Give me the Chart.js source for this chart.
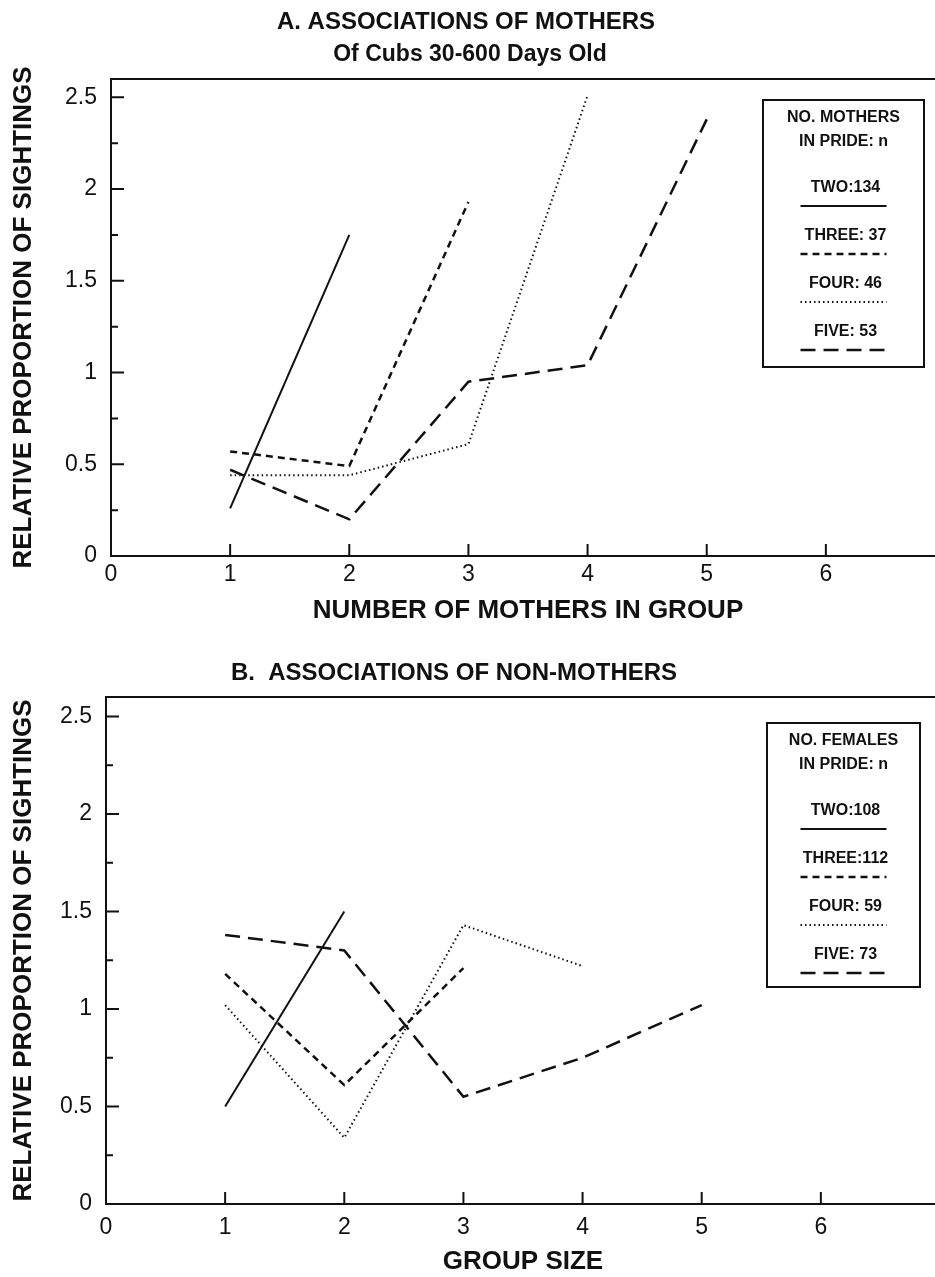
<!DOCTYPE html>
<html>
<head>
<meta charset="utf-8">
<title>Associations of mothers and non-mothers</title>
<script src="https://cdn.jsdelivr.net/npm/chart.js@4.4.1/dist/chart.umd.min.js"></script>
<style>
  html, body { margin: 0; padding: 0; background: #fff; overflow: hidden; }
  canvas { display: block; }
</style>
</head>
<body>
<canvas id="chartMothers" width="950" height="640"></canvas>
<canvas id="chartFemales" width="950" height="637"></canvas>
<script>
// group sizes on the x axis
const groupSizes = [1, 2, 3, 4, 5];
const xTickLabels = ['0', '1', '2', '3', '4', '5', '6'];
const yTickLabels = ['0', '0.5', '1', '1.5', '2', '2.5'];

// A. mothers of cubs 30-600 days old
const mothersLabels = ['TWO:134', 'THREE: 37', 'FOUR: 46', 'FIVE: 53'];
const mothersTwo = [0.26, 1.75];
const mothersThree = [0.57, 0.49, 1.93];
const mothersFour = [0.44, 0.44, 0.61, 2.51];
const mothersFive = [0.47, 0.20, 0.95, 1.04, 2.38];

// B. non-mothers
const femalesLabels = ['TWO:108', 'THREE:112', 'FOUR: 59', 'FIVE: 73'];
const femalesTwo = [0.50, 1.50];
const femalesThree = [1.18, 0.61, 1.21];
const femalesFour = [1.02, 0.34, 1.43, 1.22];
const femalesFive = [1.38, 1.30, 0.55, 0.75, 1.02];

const FONT = '"Liberation Sans", Arial, Helvetica, sans-serif';
const INK = '#111';

// line styles: solid, short dash, dotted, long dash
const lineStyles = [
    { borderWidth: 2, borderDash: [] },
    { borderWidth: 2.5, borderDash: [7, 5] },
    { borderWidth: 2, borderDash: [1.5, 3] },
    { borderWidth: 2.5, borderDash: [15, 8] }
];

function toPoints(values) {
    return values.map((v, i) => ({ x: groupSizes[i], y: v }));
}

function buildDatasets(labels, series) {
    return series.map((values, i) => ({
        label: labels[i],
        data: toPoints(values),
        borderColor: INK,
        borderWidth: lineStyles[i].borderWidth,
        borderDash: lineStyles[i].borderDash,
        pointRadius: 0,
        tension: 0,
        fill: false
    }));
}

// inward tick marks and the top edge of the frame
const frameTicks = {
    id: 'frameTicks',
    afterDraw(chart) {
        const ctx = chart.ctx;
        const area = chart.chartArea;
        const xs = chart.scales.x;
        const ys = chart.scales.y;
        ctx.save();
        ctx.strokeStyle = INK;
        ctx.lineWidth = 2;
        ctx.setLineDash([]);
        ctx.beginPath();
        ctx.moveTo(area.left - 1, area.top);
        ctx.lineTo(area.right, area.top);
        ys.ticks.forEach(t => {
            if (t.value <= 0) return;
            const py = ys.getPixelForValue(t.value);
            const major = Math.abs(t.value * 2 - Math.round(t.value * 2)) < 1e-6;
            ctx.moveTo(area.left, py);
            ctx.lineTo(area.left + (major ? 13 : 7), py);
        });
        xs.ticks.forEach(t => {
            if (t.value < 1) return;
            const px = xs.getPixelForValue(t.value);
            ctx.moveTo(px, area.bottom);
            ctx.lineTo(px, area.bottom - 12);
        });
        ctx.stroke();
        ctx.restore();
    }
};

// boxed legend with the header text above the samples
const prideLegend = {
    id: 'prideLegend',
    afterDraw(chart, args, opts) {
        const ctx = chart.ctx;
        const cx = opts.left + opts.width / 2;
        ctx.save();
        ctx.strokeStyle = INK;
        ctx.fillStyle = INK;
        ctx.lineWidth = 2;
        ctx.setLineDash([]);
        ctx.strokeRect(opts.left, opts.top, opts.width, opts.height);
        ctx.font = 'bold 16px ' + FONT;
        ctx.textAlign = 'center';
        ctx.textBaseline = 'middle';
        opts.header.forEach((t, i) => ctx.fillText(t, cx, opts.top + 18 + i * 24));
        chart.data.datasets.forEach((ds, i) => {
            const y = opts.top + 88 + i * 48;
            ctx.setLineDash([]);
            ctx.fillText(ds.label, cx + 2, y);
            ctx.beginPath();
            ctx.lineWidth = ds.borderWidth;
            ctx.setLineDash(ds.borderDash);
            ctx.moveTo(cx - 43, y + 18);
            ctx.lineTo(cx + 43, y + 18);
            ctx.stroke();
        });
        ctx.restore();
    }
};

// panel titles
const panelText = {
    id: 'panelText',
    afterDraw(chart, args, opts) {
        const ctx = chart.ctx;
        ctx.save();
        ctx.fillStyle = INK;
        ctx.textAlign = 'center';
        ctx.textBaseline = 'middle';
        opts.lines.forEach(l => {
            ctx.font = l.font;
            ctx.fillText(l.text, l.x, l.y);
        });
        ctx.restore();
    }
};

function makeChart(id, cfg) {
    return new Chart(document.getElementById(id), {
        type: 'line',
        data: { datasets: cfg.datasets },
        plugins: [frameTicks, prideLegend, panelText],
        options: {
            responsive: false,
            animation: false,
            devicePixelRatio: 1,
            layout: { padding: { top: cfg.padTop, right: cfg.padRight, left: 0, bottom: 0 } },
            plugins: {
                legend: { display: false },
                tooltip: { enabled: false },
                prideLegend: cfg.legend,
                panelText: { lines: cfg.titles }
            },
            scales: {
                x: {
                    type: 'linear',
                    min: 0,
                    max: 7,
                    afterFit: scale => { scale.height = cfg.xHeight; },
                    grid: { display: false, drawTicks: false },
                    border: { display: true, color: INK, width: 2 },
                    ticks: {
                        stepSize: 1,
                        padding: cfg.xPad,
                        color: INK,
                        font: { family: FONT, size: 23 },
                        maxRotation: 0,
                        autoSkip: false,
                        callback: v => xTickLabels[v] !== undefined ? xTickLabels[v] : ''
                    },
                    title: {
                        display: true,
                        text: cfg.xTitle,
                        color: INK,
                        font: { family: FONT, size: 26, weight: 'bold' },
                        padding: { top: 0, bottom: cfg.xTitlePad }
                    }
                },
                y: {
                    min: 0,
                    max: 2.6,
                    afterFit: scale => { scale.width = cfg.yWidth; },
                    // quarter steps up to 2.5; labels only on the halves
                    afterBuildTicks: scale => {
                        const ticks = [];
                        for (let k = 0; k <= 10; k++) ticks.push({ value: k * 0.25 });
                        scale.ticks = ticks;
                    },
                    grid: { display: false, drawTicks: false },
                    border: { display: true, color: INK, width: 2 },
                    ticks: {
                        padding: 14,
                        color: INK,
                        font: { family: FONT, size: 23 },
                        autoSkip: false,
                        callback: v => {
                            const k = Math.round(v * 2);
                            return Math.abs(v * 2 - k) < 1e-6 ? yTickLabels[k] : '';
                        }
                    },
                    title: {
                        display: true,
                        text: 'RELATIVE PROPORTION OF SIGHTINGS',
                        color: INK,
                        font: { family: FONT, size: 26, weight: 'bold' },
                        padding: { top: 8, bottom: 0 }
                    }
                }
            }
        }
    });
}

window.addEventListener('DOMContentLoaded', event => {
    makeChart('chartMothers', {
        datasets: buildDatasets(mothersLabels, [mothersTwo, mothersThree, mothersFour, mothersFive]),
        padTop: 79,
        padRight: 3,
        xHeight: 84,
        xPad: 5,
        xTitlePad: 14,
        yWidth: 111,
        xTitle: 'NUMBER OF MOTHERS IN GROUP',
        legend: { left: 763, top: 100, width: 161, height: 267, header: ['NO. MOTHERS', 'IN PRIDE: n'] },
        titles: [
            { text: 'A. ASSOCIATIONS OF MOTHERS', x: 466, y: 22, font: 'bold 24px ' + FONT },
            { text: 'Of Cubs 30-600 Days Old', x: 470, y: 55, font: 'bold 23px ' + FONT }
        ]
    });
    makeChart('chartFemales', {
        datasets: buildDatasets(femalesLabels, [femalesTwo, femalesThree, femalesFour, femalesFive]),
        padTop: 57,
        padRight: 4,
        xHeight: 73,
        xPad: 10,
        xTitlePad: 0,
        yWidth: 106,
        xTitle: 'GROUP SIZE',
        legend: { left: 767, top: 83, width: 153, height: 264, header: ['NO. FEMALES', 'IN PRIDE: n'] },
        titles: [
            { text: 'B.  ASSOCIATIONS OF NON-MOTHERS', x: 454, y: 33, font: 'bold 24px ' + FONT }
        ]
    });
});
</script>
</body>
</html>
